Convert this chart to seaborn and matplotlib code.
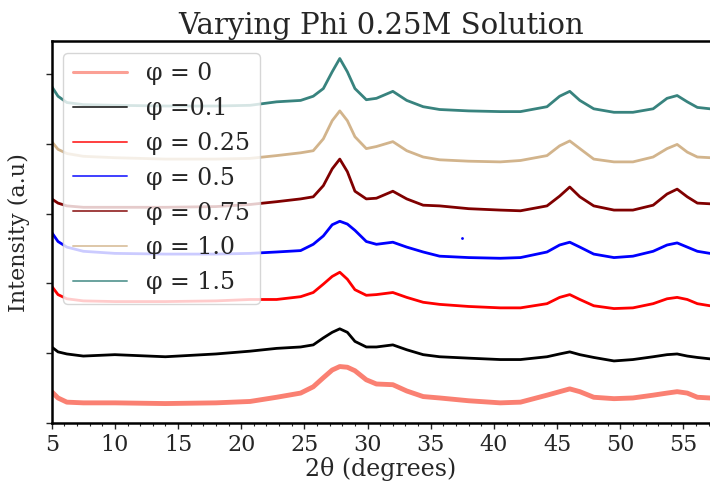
import pandas as pd
import matplotlib
matplotlib.use("Agg")
import matplotlib.pyplot as plt
from matplotlib.ticker import MultipleLocator
import seaborn as sns

# 2theta positions
two_theta = [5, 5.5, 6.2, 7.5, 10, 14, 18, 20.7, 22.8, 24.7, 25.7, 26.5, 27.2, 27.8,
             28.4, 29.0, 29.9, 30.7, 32.0, 33.1, 34.4, 35.7, 38, 40.5, 42.1, 44.2,
             45.2, 46.0, 46.8, 47.9, 49.5, 51.0, 52.6, 53.7, 54.5, 55.3, 56.1, 57.1]

# stacked intensities (offset, arbitrary units)
phi_0 = [0.45, 0.36, 0.30, 0.29, 0.29, 0.28, 0.29, 0.31, 0.37, 0.43, 0.52, 0.65, 0.76, 0.81,
         0.80, 0.75, 0.62, 0.56, 0.55, 0.46, 0.38, 0.36, 0.32, 0.29, 0.30, 0.40,
         0.45, 0.49, 0.45, 0.37, 0.35, 0.36, 0.40, 0.43, 0.45, 0.43, 0.37, 0.36]
phi_01 = [1.09, 1.02, 0.99, 0.96, 0.98, 0.95, 0.99, 1.03, 1.07, 1.09, 1.12, 1.22, 1.30, 1.35,
          1.30, 1.17, 1.09, 1.09, 1.12, 1.05, 0.98, 0.95, 0.93, 0.91, 0.91, 0.95,
          0.99, 1.02, 0.98, 0.94, 0.89, 0.91, 0.95, 0.98, 0.99, 0.96, 0.94, 0.92]
phi_025 = [1.96, 1.84, 1.78, 1.75, 1.74, 1.74, 1.75, 1.77, 1.77, 1.81, 1.87, 1.99, 2.10, 2.16,
           2.06, 1.91, 1.83, 1.84, 1.87, 1.80, 1.73, 1.70, 1.67, 1.65, 1.65, 1.71,
           1.80, 1.84, 1.77, 1.68, 1.64, 1.65, 1.71, 1.78, 1.80, 1.77, 1.71, 1.68]
phi_05 = [2.73, 2.60, 2.52, 2.46, 2.43, 2.42, 2.42, 2.43, 2.45, 2.47, 2.56, 2.68, 2.84, 2.89,
          2.85, 2.76, 2.60, 2.56, 2.59, 2.52, 2.45, 2.39, 2.37, 2.36, 2.37, 2.45,
          2.55, 2.59, 2.52, 2.42, 2.37, 2.39, 2.46, 2.55, 2.58, 2.52, 2.46, 2.43]
phi_075 = [3.21, 3.15, 3.11, 3.09, 3.09, 3.09, 3.10, 3.13, 3.17, 3.21, 3.24, 3.40, 3.64, 3.78,
           3.60, 3.32, 3.21, 3.22, 3.32, 3.21, 3.12, 3.11, 3.07, 3.05, 3.04, 3.11,
           3.25, 3.38, 3.24, 3.11, 3.05, 3.05, 3.12, 3.28, 3.35, 3.24, 3.15, 3.14]
phi_10 = [4.03, 3.92, 3.86, 3.82, 3.80, 3.78, 3.78, 3.79, 3.83, 3.87, 3.90, 4.07, 4.33, 4.47,
          4.33, 4.10, 3.93, 3.96, 4.03, 3.90, 3.81, 3.77, 3.75, 3.74, 3.76, 3.83,
          3.97, 4.04, 3.93, 3.78, 3.74, 3.74, 3.81, 3.93, 3.99, 3.88, 3.81, 3.80]
phi_15 = [4.82, 4.68, 4.59, 4.56, 4.55, 4.54, 4.54, 4.55, 4.60, 4.62, 4.68, 4.79, 5.03, 5.22,
          5.03, 4.79, 4.63, 4.65, 4.75, 4.62, 4.53, 4.49, 4.47, 4.46, 4.46, 4.53,
          4.68, 4.75, 4.62, 4.50, 4.45, 4.45, 4.50, 4.65, 4.69, 4.60, 4.52, 4.50]

# lone outlier point of the phi = 0.5 scan
stray_x = [37.5]
stray_y = [2.65]

labels = ["φ = 0", "φ =0.1", "φ = 0.25", "φ = 0.5", "φ = 0.75", "φ = 1.0", "φ = 1.5"]
series = [phi_0, phi_01, phi_025, phi_05, phi_075, phi_10, phi_15]
colors = ["salmon", "black", "red", "blue", "#800000", "tan", "#38837e"]
widths = [3.5, 2.0, 2.0, 2.0, 2.0, 2.0, 2.0]

sns.set_style("ticks")
plt.rcParams['font.family'] = ['DejaVu Serif']

fig = plt.figure(figsize=(7.1, 4.83), dpi=100)
ax = fig.add_axes([0.0728, 0.124, 0.9272, 0.791])

for lab, vals, col, lw in zip(labels, series, colors, widths):
    df = pd.DataFrame({"two_theta": two_theta, "intensity": vals})
    sns.lineplot(data=df, x="two_theta", y="intensity", color=col, linewidth=lw,
                 label=lab, ax=ax, sort=False)

sns.scatterplot(x=stray_x, y=stray_y, color="blue", s=4, linewidth=0, ax=ax, legend=False)

ax.set_xlim(5, 57.1)
ax.set_ylim(0, 5.47)
ax.xaxis.set_major_locator(MultipleLocator(5))
ax.xaxis.set_minor_locator(MultipleLocator(1))
ax.set_yticks([0, 1, 2, 3, 4, 5])
ax.set_yticklabels([])
ax.tick_params(axis="x", which="major", labelsize=16, length=4, width=1)
ax.tick_params(axis="x", which="minor", length=2, width=0.8)
ax.tick_params(axis="y", length=4, width=1)

for side in ["left", "top", "bottom"]:
    ax.spines[side].set_linewidth(1.8)
    ax.spines[side].set_color("black")
ax.spines["right"].set_visible(False)

ax.set_title("Varying Phi 0.25M Solution", fontsize=21, pad=5)
ax.set_xlabel("2θ (degrees)", fontsize=17, labelpad=1)
ax.set_ylabel("Intensity (a.u)", fontsize=16, labelpad=8)

leg = ax.legend(loc="upper left", fontsize=17, handlelength=2.3, frameon=True)
for line in leg.get_lines():
    line.set_linewidth(1.4)
    line.set_alpha(0.75)
leg.get_lines()[0].set_linewidth(2.2)

fig.savefig("out.png", dpi=100)
